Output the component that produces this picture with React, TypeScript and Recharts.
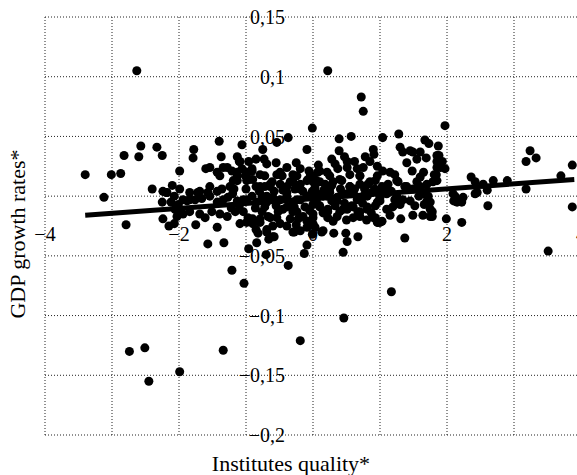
import {
  ScatterChart,
  Scatter,
  XAxis,
  YAxis,
  CartesianGrid,
  ReferenceLine,
} from 'recharts'

// Institutes quality* (x) vs GDP growth rates* (y)

const outliers: [number, number][] = [
  [-2.63, 0.105], [0.22, 0.105], [0.72, 0.083], [0.75, 0.071], [1.97, 0.059],
  [1.17, -0.08], [0.46, -0.102], [-0.19, -0.121], [-2.74, -0.13], [-2.51, -0.127],
  [-2.45, -0.155], [-1.99, -0.147], [-1.34, -0.129], [-1.21, -0.062], [-1.03, -0.073],
  [-0.37, -0.058], [3.51, -0.046],
]

const leftPoints: [number, number][] = [
  [-3.4, 0.018], [-3.01, 0.018], [-2.87, 0.019], [-3.12, -0.001], [-2.79, -0.024],
  [-2.82, 0.034], [-2.6, 0.033], [-2.57, 0.042], [-2.33, 0.041], [-2.25, 0.034],
  [-2.4, 0.006], [-1.99, 0.021], [-1.78, 0.039], [-1.79, 0.032], [-1.6, 0.023],
  [-1.54, 0.024], [-2.24, 0.004], [-2.18, 0.003], [-2.1, 0.009], [-2.07, 0],
  [-2.25, -0.005], [-2.12, -0.005], [-2.24, -0.019], [-2.15, -0.025], [-2.07, -0.023],
  [-2.03, -0.017], [-1.99, -0.011], [-1.88, -0.004], [-1.84, 0.003], [-1.72, 0.003],
  [-1.75, -0.024], [-1.57, -0.04], [-2.19, 0.003], [-1.69, 0.004], [-1.57, 0.003],
  [-1.84, -0.003], [-1.76, -0.003], [-1.66, -0.002], [-1.54, 0], [-1.94, -0.015],
  [-1.84, -0.013], [-1.69, -0.015], [-1.61, -0.018], [-1.51, -0.013], [-1.99, 0.006],
  [-1.94, -0.003], [-2.06, -0.011], [-2.01, -0.007], [-1.54, 0.008],
]

const midLeftPoints: [number, number][] = [
  [-1.4, 0.046], [-1.06, 0.043], [-1.37, 0.033], [-1.13, 0.033], [-1.1, 0.029],
  [-0.96, 0.029], [-0.91, 0.021], [-0.75, 0.039], [-0.73, 0.031], [-0.54, 0.045],
  [-0.37, 0.049], [-0.01, 0.057], [-0.09, 0.039], [-0.06, 0.021], [-1.43, 0.02],
  [-1.34, 0.024], [-1.43, -0.026], [-1.33, -0.039], [-0.96, -0.044], [-0.82, -0.031],
  [-0.84, -0.039], [-0.69, -0.03], [-0.6, -0.034], [-0.66, -0.036], [-0.09, -0.041],
  [-0.13, -0.048], [-0.7, -0.049], [-0.58, -0.034], [-0.28, -0.03], [-0.01, -0.032],
  [-1.43, 0.004], [-1.36, 0.006], [-1.24, 0.008], [-1.13, 0.013], [-1.18, 0.006],
  [-0.99, 0.013], [-0.9, 0.014], [-0.85, 0.008], [-0.72, 0.008], [-0.64, 0.008],
  [-0.49, 0.01], [-0.39, 0.008], [-0.3, 0.012], [-0.19, 0.01], [-0.09, 0.013],
  [-1.43, -0.005], [-1.34, -0.003], [-1.27, -0.001], [-1.13, -0.004], [-1.04, -0.003],
  [-0.91, 0], [-0.76, 0], [-0.69, -0.005], [-0.6, -0.001], [-0.49, -0.003],
  [-0.39, 0], [-0.3, -0.005], [-0.19, -0.003], [-0.04, 0], [-1.39, -0.015],
  [-1.28, -0.017], [-1.16, -0.013], [-1.04, -0.013], [-0.97, -0.018], [-0.9, -0.019],
  [-0.76, -0.013], [-0.67, -0.017], [-0.54, -0.018], [-0.45, -0.011], [-0.34, -0.019],
  [-0.24, -0.013], [-0.15, -0.017], [-1.09, -0.023], [-0.79, -0.022], [-0.69, -0.028],
  [-0.49, -0.023], [-0.39, -0.025], [-0.3, -0.03], [-0.19, -0.029], [-0.09, -0.026],
  [-1.28, 0.024], [-1.21, 0.021], [-1.13, 0.02], [-1.06, 0.023], [-0.91, 0.023],
  [-0.79, 0.018], [-0.61, 0.012], [-0.54, 0.018], [-0.46, 0.017], [-0.24, 0.017],
  [-0.07, 0.014], [-1.19, 0.013], [-1.13, 0.017], [-1.09, 0.029], [-1.01, 0.017],
  [-1.39, 0.017], [-0.99, 0.02], [-0.72, 0.017], [-0.69, 0.027], [-0.49, 0.02],
  [-0.3, 0.018], [-0.19, 0.023], [-0.39, 0.024], [-0.99, -0.022], [-0.9, -0.023],
  [-0.79, -0.019], [-0.64, -0.018], [-0.52, -0.013], [-0.39, -0.009], [-0.3, -0.013],
  [-0.22, -0.019], [-0.09, -0.021], [-0.94, 0.014], [-0.79, 0.008], [-0.64, 0.01],
  [-0.49, 0.018], [-0.34, 0.012], [-0.19, 0.006], [-0.04, 0.017], [-0.99, -0.003],
  [-0.84, -0.005], [-0.69, 0], [-0.54, -0.004], [-0.39, 0.003], [-0.24, -0.003],
  [-0.09, 0],
]

const midRightPoints: [number, number][] = [
  [0.13, -0.03], [0.45, -0.047], [0.51, -0.038], [0.67, -0.034], [0.49, -0.031],
  [0.31, -0.031], [1.37, -0.035], [1.28, 0.052], [1.04, 0.049], [0.57, 0.05],
  [0.39, 0.048], [0, -0.018], [0.03, -0.026], [0.15, -0.029], [0.9, -0.018],
  [0.96, -0.022], [1.0, -0.022], [1.31, -0.019], [1.49, -0.016], [1.64, -0.016],
  [1.75, -0.017], [1.66, -0.007], [1.75, -0.011], [1.7, -0.004], [1.3, 0.041],
  [1.34, 0.037], [1.45, 0.038], [1.49, 0.037], [1.67, 0.047], [1.73, 0.044],
  [1.6, 0.037], [1.69, 0.032], [1.87, 0.042], [1.85, 0.034], [1.55, 0.031],
  [1.4, 0.028], [1.48, 0.021], [1.93, 0.029], [1.97, 0.023], [1.85, 0.024],
  [1.84, 0.018], [1.85, 0.013], [1.6, 0.016], [1.27, 0.012], [1.4, 0.008],
  [0.39, 0.038], [0.51, 0.029], [0.9, 0.039], [0.91, 0.035], [0, 0.012],
  [0.07, 0.02], [0.06, -0.001], [0, -0.015], [0, -0.023], [0, 0.017],
  [0.1, 0.021], [0.21, 0.02], [0.33, 0.027], [0.37, 0.023], [0.51, 0.024],
  [0.66, 0.023], [0.75, 0.024], [0.85, 0.029], [0.96, 0.025], [1.04, 0.021],
  [1.15, 0.02], [1.22, 0.018], [0.96, 0.017], [0.7, 0.017], [0.55, 0.018],
  [0.25, 0.017], [0.05, 0.013], [0.18, 0.01], [0.3, 0.012], [0.43, 0.013],
  [0.55, 0.008], [0.7, 0.01], [0.82, 0.01], [0.93, 0.013], [1.03, 0.008],
  [1.12, 0.01], [1.25, 0.013], [1.37, 0.008], [1.49, 0.006], [1.6, 0.008],
  [1.7, 0.01], [1.79, 0.012], [-0.01, 0.004], [0.06, 0.002], [0.15, 0],
  [0.25, 0.003], [0.36, -0.001], [0.45, 0.002], [0.6, 0.003], [0.75, 0],
  [0.88, 0.003], [1.0, -0.001], [1.1, 0.002], [1.25, 0], [1.34, -0.003],
  [1.45, -0.004], [1.64, 0.002], [1.72, 0], [0, -0.007], [0.1, -0.009],
  [0.22, -0.011], [0.33, -0.008], [0.4, -0.013], [0.51, -0.011], [0.6, -0.009],
  [0.7, -0.013], [0.81, -0.011], [0.93, -0.008], [1.1, -0.011], [1.19, -0.009],
  [1.3, -0.007], [0.93, -0.018], [1.03, -0.021], [0.22, -0.018], [0.36, -0.017],
  [0.6, -0.018], [0.7, -0.017], [1.78, -0.017], [0.1, -0.008], [0.22, -0.013],
  [0.45, -0.011], [0.58, -0.008], [0.67, -0.013], [0.81, -0.009], [0.97, -0.022],
  [1.0, -0.004], [0.1, 0.012], [0.25, 0.006], [0.4, 0.014], [0.55, 0.008],
  [0.7, 0.017], [0.85, 0.012], [1.0, 0.003], [1.1, 0.006], [0.21, 0],
  [0.36, -0.004], [0.51, 0.002], [0.66, -0.003], [0.81, 0], [0.96, -0.005],
  [1.75, -0.005], [1.78, -0.013], [1.81, 0.018], [1.9, 0.024], [1.85, 0.029],
  [1.88, 0.034],
]

// the thickest part of the cloud, around the origin
const corePoints: [number, number][] = [
  [-0.15, 0.004], [-0.27, 0.006], [-0.45, 0.005], [-0.58, 0.004], [-0.8, 0.004],
  [-1.0, 0.006], [-1.2, 0.002], [0.03, 0.007], [0.16, 0.005], [0.28, 0.009],
  [0.41, 0.006], [0.62, 0.006], [0.77, 0.006], [0.92, 0.006], [1.17, 0.004],
  [-0.12, -0.009], [-0.28, -0.009], [-0.55, -0.008], [-0.72, -0.009], [-0.86, -0.01],
  [-1.1, -0.008], [-1.22, -0.01], [0.05, -0.004], [0.28, -0.004], [0.47, -0.006],
  [0.74, -0.006], [0.87, -0.014], [1.15, -0.016], [1.22, -0.003], [-0.05, -0.012],
  [0.15, -0.014], [0.3, -0.021], [0.5, -0.02], [0.8, -0.02], [-0.25, -0.024],
  [-0.6, -0.025], [-0.85, -0.028], [0.08, 0.026], [0.28, 0.031], [0.47, 0.033],
  [0.62, 0.029], [0.78, 0.033], [-0.25, 0.028], [-0.55, 0.028], [-0.85, 0.031],
  [1.55, 0.012], [1.65, 0.02], [1.52, -0.008], [1.58, 0],
]

const rightPoints: [number, number][] = [
  [3.24, 0.038], [3.33, 0.032], [3.18, 0.029], [3.87, 0.026], [3.7, 0.017],
  [3.87, -0.009], [3.18, 0.006], [2.61, -0.008], [2.6, 0.005], [2.42, 0.002],
  [2.36, 0.016], [2.42, 0.012], [2.69, 0.013], [2.9, 0.013], [2.54, 0.01],
  [2.09, 0.002], [2.15, -0.005], [2.24, -0.001], [2.22, -0.005], [1.99, -0.019],
  [2.22, -0.022], [2.45, 0.003], [2.1, -0.004], [2.12, 0],
]

// fitted trend line end points
const fitX = [-3.4, 3.9]
const fitY = [-0.016, 0.014]

const xTicks = [-4, -3, -2, -1, 0, 1, 2, 3, 4]
const yTicks = [-0.2, -0.15, -0.1, -0.05, 0, 0.05, 0.1, 0.15]

const points = [
  ...outliers, ...leftPoints, ...midLeftPoints, ...midRightPoints, ...corePoints, ...rightPoints,
].map(([x, y]) => ({ x, y }))

const FONT = '"Liberation Serif", "Times New Roman", serif'

const fmtX = (v: number) => (v % 2 !== 0 ? '' : String(v).replace('-', '\u2212'))
const fmtY = (v: number) => (v === 0 ? '' : String(v).replace('.', ',').replace('-', '\u2212'))

export default function App() {
  return (
    <div
      style={{
        position:   'absolute',
        left:       0,
        top:        0,
        width:      577,
        height:     475,
        overflow:   'hidden',
        background: '#fff',
      }}
    >
      <ScatterChart
        width={600}
        height={475}
        margin={{ top: 17, right: 19, bottom: 0, left: 0 }}
      >
        <CartesianGrid stroke="#222" strokeDasharray="1 2" />
        <XAxis
          type="number"
          dataKey="x"
          domain={[-4, 4]}
          ticks={xTicks}
          interval={0}
          tickFormatter={fmtX}
          height={40}
          axisLine={false}
          tickLine={false}
          tickSize={0}
          tickMargin={0}
          tick={{ fill: '#000', fontSize: 20, fontFamily: FONT, dy: -208 }}
          label={{
            value:    'Institutes quality*',
            position: 'center',
            dx:       -22,
            dy:       8,
            style:    { fill: '#000', fontSize: 22, fontFamily: FONT },
          }}
        />
        <YAxis
          type="number"
          dataKey="y"
          domain={[-0.2, 0.15]}
          ticks={yTicks}
          interval={0}
          tickFormatter={fmtY}
          width={45}
          axisLine={false}
          tickLine={false}
          tickSize={0}
          tickMargin={0}
          tick={{ fill: '#000', fontSize: 20, fontFamily: FONT, dx: 240 }}
          label={{
            value:    'GDP growth rates*',
            angle:    -90,
            position: 'center',
            dx:       -5,
            dy:       8,
            style:    { fill: '#000', fontSize: 22, fontFamily: FONT },
          }}
        />
        <Scatter data={points} fill="#000" isAnimationActive={false} />
        <ReferenceLine
          segment={[
            { x: fitX[0], y: fitY[0] },
            { x: fitX[1], y: fitY[1] },
          ]}
          stroke="#000"
          strokeWidth={5}
        />
      </ScatterChart>
    </div>
  )
}
